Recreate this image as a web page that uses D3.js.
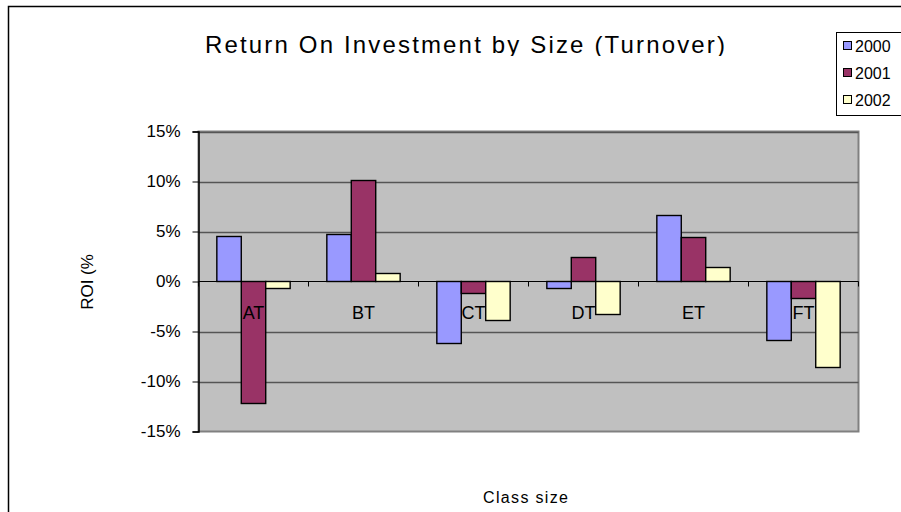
<!DOCTYPE html>
<html>
<head>
<meta charset="utf-8">
<script src="https://cdn.jsdelivr.net/npm/d3@7"></script>
<style>
  body { margin: 0; background: #fff; }
  svg { display: block; font-family: Arial, "Liberation Sans", sans-serif; }
</style>
</head>
<body>
<div id="chart"></div>
<script>
var width = 901, height = 512;

// data (ROI in %)
var categories = ["AT", "BT", "CT", "DT", "ET", "FT"];
var years = ["2000", "2001", "2002"];
var roi2000 = [4.5, 4.7, -6.2, -0.7, 6.6, -5.9];
var roi2001 = [-12.2, 10.1, -1.2, 2.4, 4.4, -1.7];
var roi2002 = [-0.7, 0.8, -3.9, -3.3, 1.4, -8.6];
var yTicks = [-15, -10, -5, 0, 5, 10, 15];
var colors = ["#9999ff", "#993366", "#ffffcc"];

var series = [roi2000, roi2001, roi2002];

var plot = {left: 198.5, right: 858.5, top: 131.5, bottom: 431.5};

var svg = d3.select("#chart")
            .append("svg")
            .attr("width", width)
            .attr("height", height);

// outer chart border (top and left visible)
svg.append("path")
   .attr("d", "M8.5,512 L8.5,6.5 L901,6.5")
   .attr("fill", "none")
   .attr("stroke", "#000")
   .attr("stroke-width", 1.5);

var x0 = d3.scaleBand()
           .domain(categories)
           .range([plot.left, plot.right]);

var x1 = d3.scaleBand()
           .domain(years)
           .range([0, x0.bandwidth()])
           .paddingInner(0)
           .paddingOuter(0.75);

var y = d3.scaleLinear()
          .domain([-15, 15])
          .range([plot.bottom, plot.top]);

// plot area background
svg.append("rect")
   .attr("x", plot.left)
   .attr("y", plot.top)
   .attr("width", plot.right - plot.left)
   .attr("height", plot.bottom - plot.top)
   .attr("fill", "#c0c0c0")
   .attr("stroke", "#808080")
   .attr("stroke-width", 2);

// gridlines
svg.append("g")
   .selectAll("line")
   .data(yTicks.filter(d => d !== 0 && d !== -15))
   .enter()
   .append("line")
   .attr("x1", plot.left)
   .attr("x2", plot.right)
   .attr("y1", d => Math.round(y(d)) + 0.5)
   .attr("y2", d => Math.round(y(d)) + 0.5)
   .attr("stroke", "#555")
   .attr("stroke-width", 1.5);

// y axis
var yAxis = svg.append("g")
   .attr("transform", "translate(" + plot.left + ",0)")
   .call(d3.axisLeft(y).tickValues(yTicks).tickSize(6).tickPadding(12)
           .tickFormat(d => d + "%"));
yAxis.select(".domain").attr("stroke", "#000").attr("stroke-width", 1.5);
yAxis.selectAll(".tick line").attr("stroke", "#000");
yAxis.selectAll("text")
     .attr("font-size", 17)
     .attr("font-family", "Arial, 'Liberation Sans', sans-serif")
     .attr("fill", "#000");

// bars
var groups = svg.append("g")
   .selectAll("g")
   .data(categories)
   .enter()
   .append("g")
   .attr("transform", d => "translate(" + x0(d) + ",0)");

groups.selectAll("rect")
   .data((c, i) => series.map((s, k) => ({year: years[k], value: s[i], k: k})))
   .enter()
   .append("rect")
   .attr("x", d => x1(d.year))
   .attr("width", x1.bandwidth())
   .attr("y", d => y(Math.max(0, d.value)))
   .attr("height", d => Math.abs(y(d.value) - y(0)))
   .attr("fill", d => colors[d.k])
   .attr("stroke", "#000")
   .attr("stroke-width", 1.4);

// zero axis with category ticks
svg.append("line")
   .attr("x1", plot.left)
   .attr("x2", plot.right)
   .attr("y1", y(0))
   .attr("y2", y(0))
   .attr("stroke", "#000")
   .attr("stroke-width", 1.2);

svg.append("g")
   .selectAll("line")
   .data(categories.concat(["end"]))
   .enter()
   .append("line")
   .attr("x1", (d, i) => plot.left + i * x0.bandwidth())
   .attr("x2", (d, i) => plot.left + i * x0.bandwidth())
   .attr("y1", y(0))
   .attr("y2", y(0) + 5)
   .attr("stroke", "#000");

// category labels
svg.append("g")
   .selectAll("text")
   .data(categories)
   .enter()
   .append("text")
   .attr("x", d => x0(d) + x0.bandwidth() / 2)
   .attr("y", y(0) + 37)
   .attr("text-anchor", "middle")
   .attr("font-size", 18)
   .text(d => d);

// title (clipped at bottom like the original)
svg.append("clipPath")
   .attr("id", "titleClip")
   .append("rect")
   .attr("x", 0).attr("y", 0).attr("width", 830).attr("height", 56);

svg.append("text")
   .attr("clip-path", "url(#titleClip)")
   .attr("x", 205)
   .attr("y", 53)
   .attr("font-size", 24)
   .attr("textLength", 520)
   .attr("lengthAdjust", "spacing")
   .text("Return On Investment by Size (Turnover)");

// axis titles
svg.append("text")
   .attr("transform", "translate(93,282) rotate(-90)")
   .attr("text-anchor", "middle")
   .attr("font-size", 17)
   .text("ROI (%");

svg.append("text")
   .attr("x", 483)
   .attr("y", 503)
   .attr("font-size", 16)
   .attr("textLength", 85)
   .attr("lengthAdjust", "spacing")
   .text("Class size");

// legend
var legend = svg.append("g");
legend.append("rect")
   .attr("x", 836.5)
   .attr("y", 32.5)
   .attr("width", 80)
   .attr("height", 83)
   .attr("fill", "#fff")
   .attr("stroke", "#000");

var items = legend.selectAll("g.item")
   .data(years)
   .enter()
   .append("g")
   .attr("class", "item")
   .attr("transform", (d, i) => "translate(0," + (46 + i * 27) + ")");

items.append("rect")
   .attr("x", 843.5)
   .attr("y", -4.5)
   .attr("width", 8)
   .attr("height", 8)
   .attr("fill", (d, i) => colors[i])
   .attr("stroke", "#000");

items.append("text")
   .attr("x", 855)
   .attr("y", 6)
   .attr("font-size", 16)
   .text(d => d);
</script>
</body>
</html>
